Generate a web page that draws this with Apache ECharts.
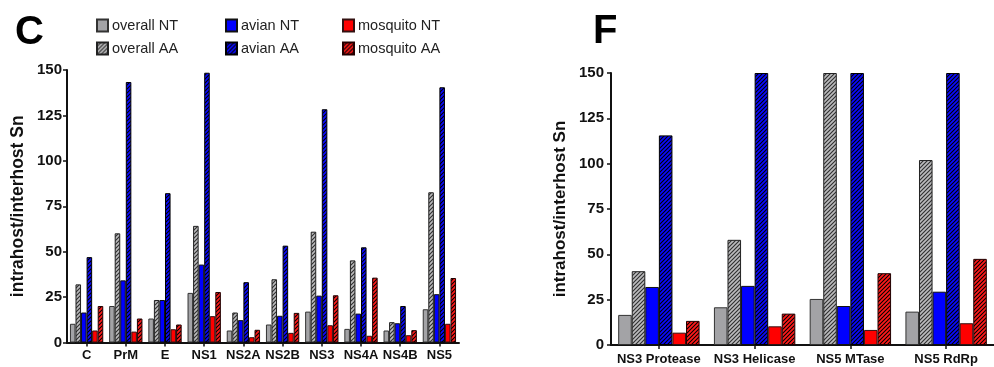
<!DOCTYPE html>
<html>
<head>
<meta charset="utf-8">
<script src="https://cdn.jsdelivr.net/npm/echarts@6/dist/echarts.min.js"></script>
<style>
html,body{margin:0;padding:0;background:#fff;}
#chart{width:994px;height:367px;}
</style>
</head>
<body>
<div id="chart"></div>
<script>
// ---------- data ----------
const seriesNames = ['overall NT', 'overall AA', 'avian NT', 'avian AA', 'mosquito NT', 'mosquito AA'];

const catsC = ['C', 'PrM', 'E', 'NS1', 'NS2A', 'NS2B', 'NS3', 'NS4A', 'NS4B', 'NS5'];
const overallNT_C  = [10.3, 20.1, 13.2, 27.3, 6.6, 9.9, 17.0, 7.5, 6.6, 18.3];
const overallAA_C  = [32.0, 60.1, 23.4, 64.2, 16.5, 34.8, 61.0, 45.2, 11.2, 82.7];
const avianNT_C    = [16.5, 34.2, 23.4, 42.9, 12.3, 14.7, 25.8, 15.9, 10.6, 26.6];
const avianAA_C    = [47.0, 143.4, 82.2, 148.5, 33.2, 53.3, 128.4, 52.4, 20.1, 140.5];
const mosqNT_C     = [6.6, 6.0, 7.3, 14.5, 2.9, 5.3, 9.5, 3.7, 4.0, 10.3];
const mosqAA_C     = [20.1, 13.2, 9.9, 27.8, 7.0, 16.3, 26.0, 35.7, 6.8, 35.5];

const catsF = ['NS3 Protease', 'NS3 Helicase', 'NS5 MTase', 'NS5 RdRp'];
const overallNT_F  = [16.6, 20.8, 25.4, 18.4];
const overallAA_F  = [40.7, 58.0, 150, 102.0];
const avianNT_F    = [32.0, 32.6, 21.5, 29.4];
const avianAA_F    = [115.6, 150, 150, 150];
const mosqNT_F     = [6.8, 10.3, 8.3, 12.0];
const mosqAA_F     = [13.3, 17.3, 39.6, 47.5];

// ---------- styles ----------
function hatch(base, line, lw) {
  const s = 4;
  const c = document.createElement('canvas');
  c.width = s; c.height = s;
  const ctx = c.getContext('2d');
  ctx.fillStyle = base;
  ctx.fillRect(0, 0, s, s);
  ctx.strokeStyle = line;
  ctx.lineWidth = lw;
  ctx.beginPath();
  ctx.moveTo(-1, s + 1); ctx.lineTo(s + 1, -1);
  ctx.moveTo(-1, 1); ctx.lineTo(1, -1);
  ctx.moveTo(s - 1, s + 1); ctx.lineTo(s + 1, s - 1);
  ctx.stroke();
  return { image: c, repeat: 'repeat' };
}

const fills = [
  '#a3a3a6',
  hatch('#bcbcbe', '#303030', 1.15),
  '#0000ff',
  hatch('#0a0aff', '#000000', 1.1),
  '#ff0000',
  hatch('#ff1a1a', '#000000', 1.05)
];
const borders = ['#333', '#222', '#111', '#000', '#311', '#200'];

const dataC = [overallNT_C, overallAA_C, avianNT_C, avianAA_C, mosqNT_C, mosqAA_C];
const dataF = [overallNT_F, overallAA_F, avianNT_F, avianAA_F, mosqNT_F, mosqAA_F];

const font = 'Liberation Sans, Arial, sans-serif';

function mkSeries(data, gridIdx) {
  return seriesNames.map((n, i) => ({
    name: n,
    type: 'bar',
    xAxisIndex: gridIdx,
    yAxisIndex: gridIdx,
    data: data[i],
    barGap: '0%',
    barCategoryGap: '15%',
    itemStyle: { color: fills[i], borderColor: borders[i], borderWidth: 1 },
    emphasis: { disabled: true },
    animation: false
  }));
}

function yAxis(gridIdx, labelSize, nameSize, nameGap, margin) {
  return {
    type: 'value', gridIndex: gridIdx, min: 0, max: 150, interval: 25,
    name: 'intrahost/interhost Sn', nameLocation: 'middle', nameGap: nameGap,
    nameTextStyle: { fontFamily: font, fontSize: nameSize, fontWeight: 'bold', color: '#111' },
    axisLine: { show: true, lineStyle: { color: '#111', width: 2 } },
    axisTick: { show: true, length: 4, lineStyle: { color: '#111', width: 1.5 } },
    axisLabel: { fontFamily: font, fontSize: labelSize, fontWeight: 'bold', color: '#111', margin: margin },
    splitLine: { show: false }
  };
}
function xAxis(gridIdx, cats, size, margin) {
  return {
    type: 'category', gridIndex: gridIdx, data: cats,
    axisLine: { show: true, lineStyle: { color: '#111', width: 2 } },
    axisTick: { show: true, alignWithLabel: true, length: 4, lineStyle: { color: '#111', width: 1.5 } },
    axisLabel: { fontFamily: font, fontSize: size, fontWeight: 'bold', color: '#111', interval: 0, margin: margin }
  };
}

function legend(left, names) {
  return {
    left: left, top: 18, orient: 'vertical', padding: 0, itemGap: 8,
    itemWidth: 11, itemHeight: 12, icon: 'rect',
    data: names, selectedMode: false,
    textStyle: { fontFamily: font, fontSize: 14.5, color: '#222', lineHeight: 12, padding: [0, 0, 0, -1] }
  };
}

const chart = echarts.init(document.getElementById('chart'), null, { renderer: 'canvas' });
chart.setOption({
  backgroundColor: '#fff',
  animation: false,
  title: [
    { text: 'C', left: 15, top: 13, padding: 0, textStyle: { fontFamily: font, fontSize: 40, fontWeight: 'bold', color: '#000' } },
    { text: 'F', left: 593, top: 12, padding: 0, textStyle: { fontFamily: font, fontSize: 40, fontWeight: 'bold', color: '#000' } }
  ],
  legend: [
    legend(96, ['overall NT', 'overall AA']),
    legend(225, ['avian NT', 'avian AA']),
    legend(342, ['mosquito NT', 'mosquito AA'])
  ],
  grid: [
    { left: 67, right: 535, top: 70, bottom: 24.5, containLabel: false },
    { left: 611, right: -8, top: 73, bottom: 22, containLabel: false }
  ],
  xAxis: [xAxis(0, catsC, 13, 6), xAxis(1, catsF, 13, 8)],
  yAxis: [yAxis(0, 15, 17.5, 40, 5), yAxis(1, 15, 17, 42, 7)],
  series: [].concat(mkSeries(dataC, 0), mkSeries(dataF, 1))
});
</script>
</body>
</html>
